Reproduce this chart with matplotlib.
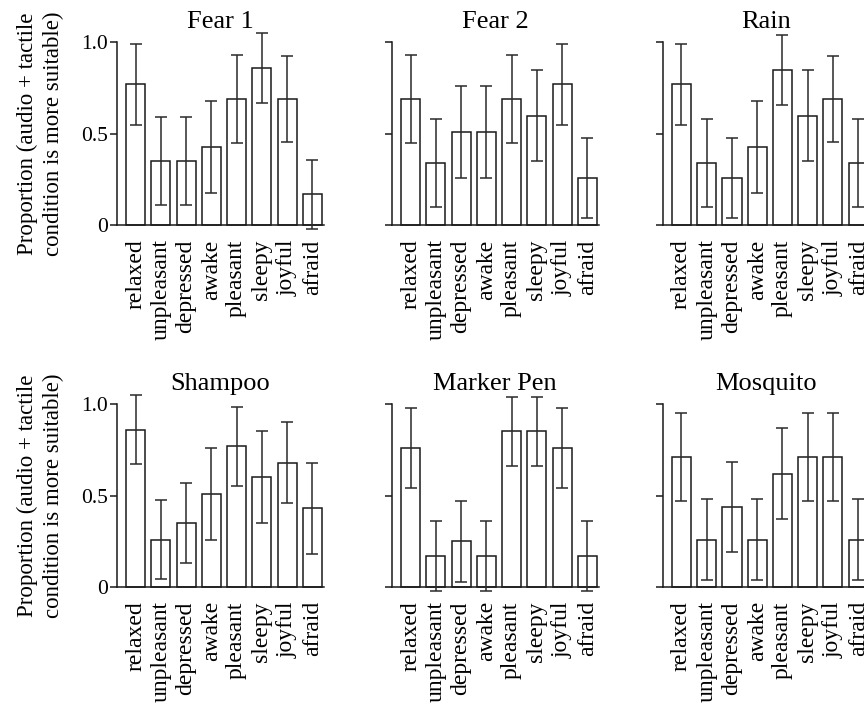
import matplotlib
matplotlib.use("Agg")
import matplotlib.pyplot as plt
import numpy as np

plt.rcParams['font.family'] = ['Liberation Serif', 'DejaVu Serif']

categories = ["relaxed", "unpleasant", "depressed", "awake",
              "pleasant", "sleepy", "joyful", "afraid"]

titles = ["Fear 1", "Fear 2", "Rain", "Shampoo", "Marker Pen", "Mosquito"]

fear1_vals = [0.77, 0.35, 0.35, 0.43, 0.69, 0.86, 0.69, 0.17]
fear1_err = [0.22, 0.24, 0.24, 0.25, 0.24, 0.19, 0.235, 0.19]

fear2_vals = [0.69, 0.34, 0.51, 0.51, 0.69, 0.60, 0.77, 0.26]
fear2_err = [0.24, 0.24, 0.25, 0.25, 0.24, 0.25, 0.22, 0.22]

rain_vals = [0.77, 0.34, 0.26, 0.43, 0.85, 0.60, 0.69, 0.34]
rain_err = [0.22, 0.24, 0.22, 0.25, 0.19, 0.25, 0.235, 0.24]

shampoo_vals = [0.86, 0.26, 0.35, 0.51, 0.77, 0.60, 0.68, 0.43]
shampoo_err = [0.19, 0.215, 0.22, 0.25, 0.215, 0.25, 0.22, 0.25]

marker_vals = [0.76, 0.17, 0.25, 0.17, 0.85, 0.85, 0.76, 0.17]
marker_err = [0.22, 0.19, 0.22, 0.19, 0.19, 0.19, 0.22, 0.19]

mosquito_vals = [0.71, 0.26, 0.44, 0.26, 0.62, 0.71, 0.71, 0.26]
mosquito_err = [0.24, 0.22, 0.245, 0.22, 0.25, 0.24, 0.24, 0.22]

yticks = [0, 0.5, 1.0]
ytick_labels = ["0", "0.5", "1.0"]
ylabel_text = "Proportion (audio + tactile\ncondition is more suitable)"

series = [(fear1_vals, fear1_err), (fear2_vals, fear2_err), (rain_vals, rain_err),
          (shampoo_vals, shampoo_err), (marker_vals, marker_err),
          (mosquito_vals, mosquito_err)]

W, H = 864, 706
fig = plt.figure(figsize=(W / 100, H / 100), dpi=100)

col_left = [116.7, 391.7, 662.5]
row_zero = [225.5, 587.3]
ax_w = 207.0
ax_h = 183.3

x = np.arange(len(categories))
edge = '#1a1a1a'
for i, (title, (vals, errs)) in enumerate(zip(titles, series)):
    r, c = divmod(i, 3)
    left = col_left[c] / W
    bottom = (H - row_zero[r]) / H
    ax = fig.add_axes([left, bottom, ax_w / W, ax_h / H])
    ax.bar(x, vals, width=0.76, color='white', edgecolor=edge, linewidth=1.1,
           zorder=2)
    ax.errorbar(x, vals, yerr=errs, fmt='none', ecolor='#2a2a2a',
                elinewidth=1.1, capsize=4.3, capthick=1.1, clip_on=False,
                zorder=3)
    ax.set_xlim(-0.75, 7.45)
    ax.set_ylim(0, 1.0)
    for s in ['top', 'right']:
        ax.spines[s].set_visible(False)
    ax.spines['left'].set_bounds(0, 1.0)
    ax.spines['left'].set_linewidth(1.1)
    ax.spines['bottom'].set_linewidth(1.1)
    ax.spines['left'].set_color(edge)
    ax.spines['bottom'].set_color(edge)
    ax.set_yticks(yticks)
    if c == 0:
        ax.set_yticklabels(ytick_labels, fontsize=15.5)
    else:
        ax.set_yticklabels([])
    ax.tick_params(axis='y', direction='out', length=5, width=1.1, pad=1.5,
                   color=edge)
    ax.set_xticks(x)
    ax.set_xticklabels(categories, rotation=90, fontsize=17)
    ax.tick_params(axis='x', length=0, pad=10)
    ax.set_title(title, fontsize=19, pad=10)
    for b in ax.patches:
        b.set_clip_on(False)
    if c == 0:
        yc = 1 - (row_zero[r] - ax_h / 2) / H
        fig.text(40 / W, yc, ylabel_text, rotation=90, ha='center',
                 va='center', fontsize=16.5, linespacing=1.3,
                 multialignment='center')

fig.savefig("out.png", dpi=100)
